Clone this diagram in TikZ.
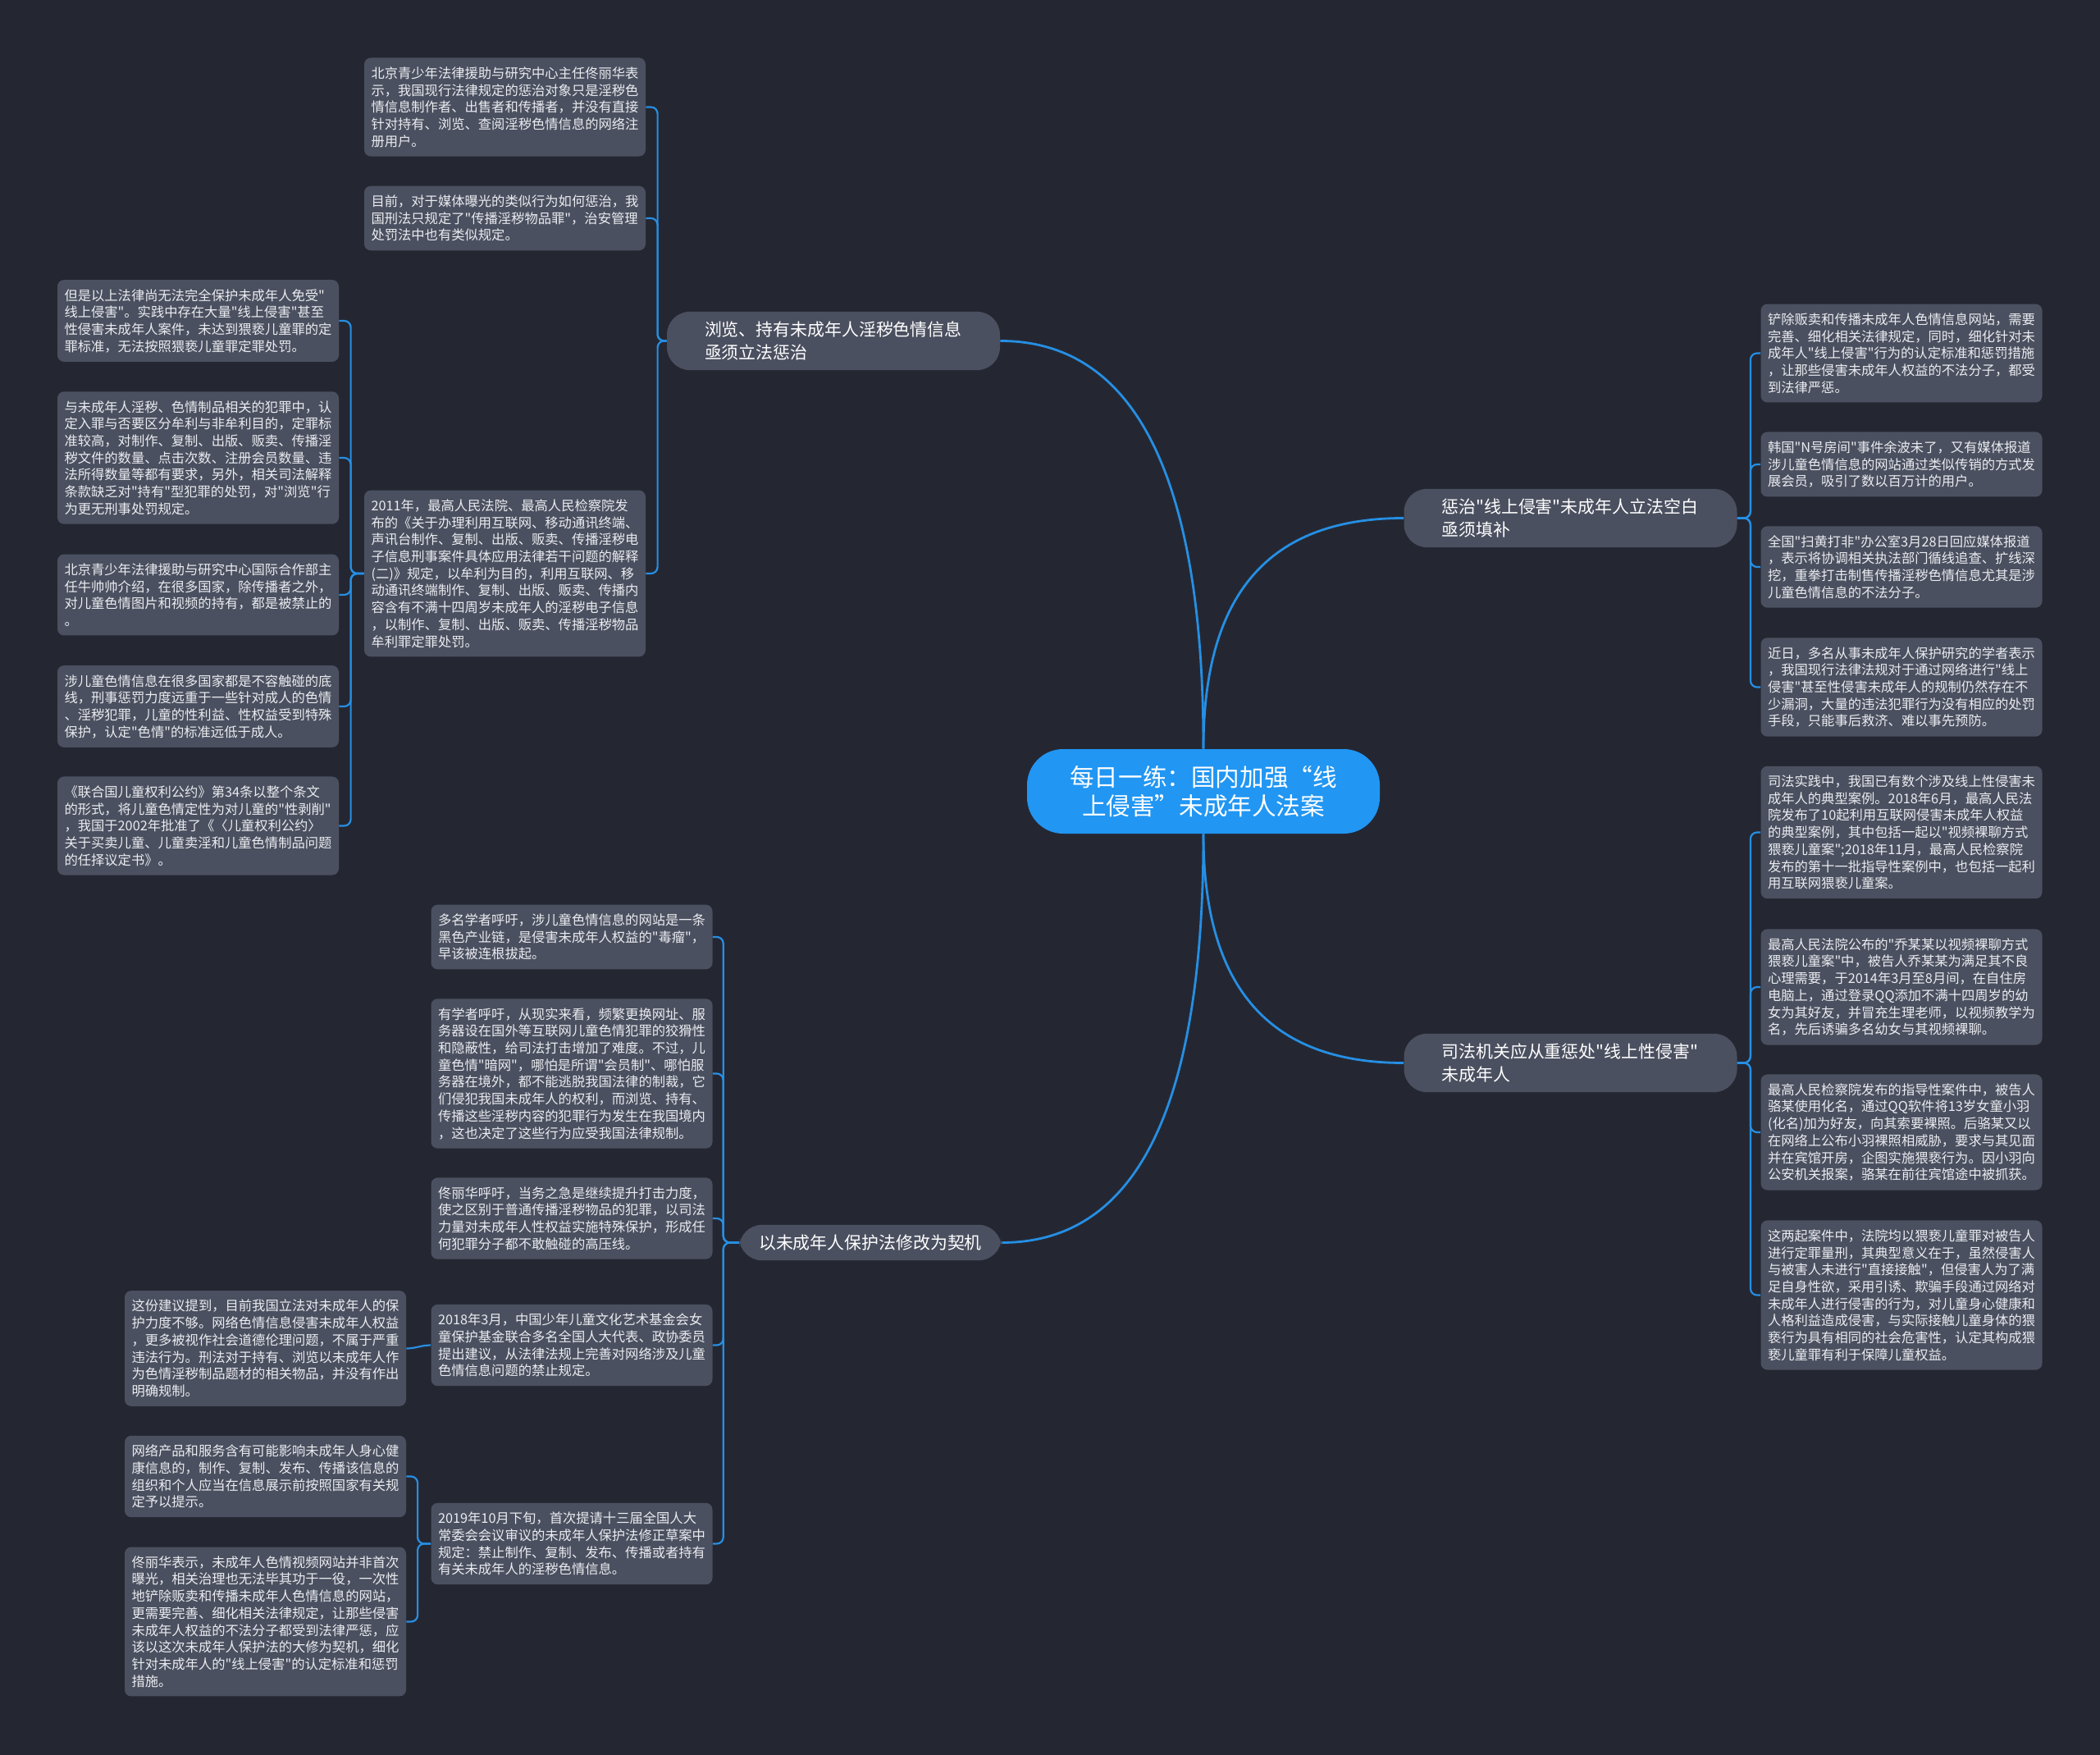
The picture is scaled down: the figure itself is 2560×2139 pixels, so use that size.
\documentclass[tikz,border=0pt]{standalone}
\usepackage{fontspec}
\setmainfont{Noto Sans CJK SC}[Ligatures=TeXOff]
\usepackage{tikz}
\definecolor{MMBack}{RGB}{36,39,50}
\definecolor{MMCard}{RGB}{75,80,96}
\definecolor{MMBlue}{RGB}{33,150,243}
\definecolor{MMLine}{RGB}{38,143,228}
\definecolor{MMText}{RGB}{234,236,240}
\newcommand{\hubfont}{\fontsize{14.8}{17.5}\selectfont}
\newcommand{\branchfont}{\fontsize{10.45}{13.9}\selectfont}
\newcommand{\leaffont}{\fontsize{8.15}{10.35}\selectfont}

\begin{document}
\begin{tikzpicture}[x=0.5pt, y=-0.5pt,
    hub/.style={fill=MMBlue, text=white, rounded corners=22pt, font=\hubfont,
                align=center, minimum width=215pt, minimum height=51.5pt},
    branch/.style={fill=MMCard, text=white, rounded corners=14pt, font=\branchfont,
                   align=left, inner xsep=23pt, inner ysep=6pt},
    leaf/.style={fill=MMCard, text=MMText, rounded corners=4pt, font=\leaffont,
                 align=left, text width=163pt, inner xsep=4.25pt, inner ysep=5.5pt},
    trunk/.style={draw=MMLine, line width=1.4pt},
    link/.style={draw=MMLine, line width=1.1pt, rounded corners=4pt}]
        % ---- canvas ----
        \useasboundingbox (0,0) rectangle (2560,2139);
        \fill[MMBack] (0,0) rectangle (2560,2139);

        % ---- centre and main branches ----
        \node[hub] (hub) at (1467,964.5) {每日一练：国内加强“线\\上侵害”未成年人法案};
        \node[branch, text width=157pt] (b1) at (1016,415.5)
              {浏览、持有未成年人淫秽色情信息\\亟须立法惩治};
        \node[branch, text width=157pt] (b2) at (1914.5,631.5)
              {惩治"线上侵害"未成年人立法空白\\亟须填补};
        \node[branch, text width=157pt] (b3) at (1914.5,1295.5)
              {司法机关应从重惩处"线上性侵害"\\未成年人};
        \node[branch, inner xsep=12pt] (b4) at (1061,1514.5)
              {以未成年人保护法修改为契机};

        \draw[trunk] (hub.north) .. controls +(0,-330) and +(165,0) .. (b1.east);
        \draw[trunk] (hub.north) .. controls +(0,-188) and +(-165,0) .. (b2.west);
        \draw[trunk] (hub.south) .. controls +(0,186) and +(-165,0) .. (b3.west);
        \draw[trunk] (hub.south) .. controls +(0,332) and +(165,0) .. (b4.east);

        % ---- upper left: browsing / possession ----
        \node[leaf] (l1) at (615.5,130.5) {北京青少年法律援助与研究中心主任佟丽华表\\示，我国现行法律规定的惩治对象只是淫秽色\\情信息制作者、出售者和传播者，并没有直接\\针对持有、浏览、查阅淫秽色情信息的网络注\\册用户。};
        \node[leaf] (l2) at (615.5,266) {目前，对于媒体曝光的类似行为如何惩治，我\\国刑法只规定了"传播淫秽物品罪"，治安管理\\处罚法中也有类似规定。};
        \node[leaf] (l3) at (615.5,699) {2011年，最高人民法院、最高人民检察院发\\布的《关于办理利用互联网、移动通讯终端、\\声讯台制作、复制、出版、贩卖、传播淫秽电\\子信息刑事案件具体应用法律若干问题的解释\\(二)》规定，以牟利为目的，利用互联网、移\\动通讯终端制作、复制、出版、贩卖、传播内\\容含有不满十四周岁未成年人的淫秽电子信息\\，以制作、复制、出版、贩卖、传播淫秽物品\\牟利罪定罪处罚。};
        \foreach \c in {l1,l2,l3} {
          \draw[link] (b1.west) -- ++(-11,0) |- (\c.east);
        }

        \node[leaf] (l4) at (241.5,391) {但是以上法律尚无法完全保护未成年人免受"\\线上侵害"。实践中存在大量"线上侵害"甚至\\性侵害未成年人案件，未达到猥亵儿童罪的定\\罪标准，无法按照猥亵儿童罪定罪处罚。};
        \node[leaf] (l5) at (241.5,558) {与未成年人淫秽、色情制品相关的犯罪中，认\\定入罪与否要区分牟利与非牟利目的，定罪标\\准较高，对制作、复制、出版、贩卖、传播淫\\秽文件的数量、点击次数、注册会员数量、违\\法所得数量等都有要求，另外，相关司法解释\\条款缺乏对"持有"型犯罪的处罚，对"浏览"行\\为更无刑事处罚规定。};
        \node[leaf] (l6) at (241.5,725) {北京青少年法律援助与研究中心国际合作部主\\任牛帅帅介绍，在很多国家，除传播者之外，\\对儿童色情图片和视频的持有，都是被禁止的\\。};
        \node[leaf] (l7) at (241.5,861) {涉儿童色情信息在很多国家都是不容触碰的底\\线，刑事惩罚力度远重于一些针对成人的色情\\、淫秽犯罪，儿童的性利益、性权益受到特殊\\保护，认定"色情"的标准远低于成人。};
        \node[leaf] (l8) at (241.5,1006.5) {《联合国儿童权利公约》第34条以整个条文\\的形式，将儿童色情定性为对儿童的"性剥削"\\，我国于2002年批准了《〈儿童权利公约〉\\关于买卖儿童、儿童卖淫和儿童色情制品问题\\的任择议定书》。};
        \foreach \c in {l4,l5,l6,l7,l8} {
          \draw[link] (l3.west) -- ++(-16,0) |- (\c.east);
        }

        % ---- upper right: legislative gap ----
        \node[leaf] (r1) at (2318,430.5) {铲除贩卖和传播未成年人色情信息网站，需要\\完善、细化相关法律规定，同时，细化针对未\\成年人"线上侵害"行为的认定标准和惩罚措施\\，让那些侵害未成年人权益的不法分子，都受\\到法律严惩。};
        \node[leaf] (r2) at (2318,566) {韩国"N号房间"事件余波未了，又有媒体报道\\涉儿童色情信息的网站通过类似传销的方式发\\展会员，吸引了数以百万计的用户。};
        \node[leaf] (r3) at (2318,691) {全国"扫黄打非"办公室3月28日回应媒体报道\\，表示将协调相关执法部门循线追查、扩线深\\挖，重拳打击制售传播淫秽色情信息尤其是涉\\儿童色情信息的不法分子。};
        \node[leaf] (r4) at (2318,837.5) {近日，多名从事未成年人保护研究的学者表示\\，我国现行法律法规对于通过网络进行"线上\\侵害"甚至性侵害未成年人的规制仍然存在不\\少漏洞，大量的违法犯罪行为没有相应的处罚\\手段，只能事后救济、难以事先预防。};
        \foreach \c in {r1,r2,r3,r4} {
          \draw[link] (b2.east) -- ++(16,0) |- (\c.west);
        }

        % ---- lower right: judicial cases ----
        \node[leaf] (r5) at (2318,1014.5) {司法实践中，我国已有数个涉及线上性侵害未\\成年人的典型案例。2018年6月，最高人民法\\院发布了10起利用互联网侵害未成年人权益\\的典型案例，其中包括一起以"视频裸聊方式\\猥亵儿童案";2018年11月，最高人民检察院\\发布的第十一批指导性案例中，也包括一起利\\用互联网猥亵儿童案。};
        \node[leaf] (r6) at (2318,1203) {最高人民法院公布的"乔某某以视频裸聊方式\\猥亵儿童案"中，被告人乔某某为满足其不良\\心理需要，于2014年3月至8月间，在自住房\\电脑上，通过登录QQ添加不满十四周岁的幼\\女为其好友，并冒充生理老师，以视频教学为\\名，先后诱骗多名幼女与其视频裸聊。};
        \node[leaf] (r7) at (2318,1380) {最高人民检察院发布的指导性案件中，被告人\\骆某使用化名，通过QQ软件将13岁女童小羽\\(化名)加为好友，向其索要裸照。后骆某又以\\在网络上公布小羽裸照相威胁，要求与其见面\\并在宾馆开房，企图实施猥亵行为。因小羽向\\公安机关报案，骆某在前往宾馆途中被抓获。};
        \node[leaf] (r8) at (2318,1578.5) {这两起案件中，法院均以猥亵儿童罪对被告人\\进行定罪量刑，其典型意义在于，虽然侵害人\\与被害人未进行"直接接触"，但侵害人为了满\\足自身性欲，采用引诱、欺骗手段通过网络对\\未成年人进行侵害的行为，对儿童身心健康和\\人格利益造成侵害，与实际接触儿童身体的猥\\亵行为具有相同的社会危害性，认定其构成猥\\亵儿童罪有利于保障儿童权益。};
        \foreach \c in {r5,r6,r7,r8} {
          \draw[link] (b3.east) -- ++(16,0) |- (\c.west);
        }

        % ---- lower left: law revision ----
        \node[leaf] (m1) at (697,1142) {多名学者呼吁，涉儿童色情信息的网站是一条\\黑色产业链，是侵害未成年人权益的"毒瘤"，\\早该被连根拔起。};
        \node[leaf] (m2) at (697,1308.5) {有学者呼吁，从现实来看，频繁更换网址、服\\务器设在国外等互联网儿童色情犯罪的狡猾性\\和隐蔽性，给司法打击增加了难度。不过，儿\\童色情"暗网"，哪怕是所谓"会员制"、哪怕服\\务器在境外，都不能逃脱我国法律的制裁，它\\们侵犯我国未成年人的权利，而浏览、持有、\\传播这些淫秽内容的犯罪行为发生在我国境内\\，这也决定了这些行为应受我国法律规制。};
        \node[leaf] (m3) at (697,1485) {佟丽华呼吁，当务之急是继续提升打击力度，\\使之区别于普通传播淫秽物品的犯罪，以司法\\力量对未成年人性权益实施特殊保护，形成任\\何犯罪分子都不敢触碰的高压线。};
        \node[leaf] (m4) at (697,1639.5) {2018年3月，中国少年儿童文化艺术基金会女\\童保护基金联合多名全国人大代表、政协委员\\提出建议，从法律法规上完善对网络涉及儿童\\色情信息问题的禁止规定。};
        \node[leaf] (m5) at (697,1881.5) {2019年10月下旬，首次提请十三届全国人大\\常委会会议审议的未成年人保护法修正草案中\\规定：禁止制作、复制、发布、传播或者持有\\有关未成年人的淫秽色情信息。};
        \foreach \c in {m1,m2,m3,m4,m5} {
          \draw[link] (b4.west) -- ++(-19,0) |- (\c.east);
        }

        \node[leaf] (k1) at (323.5,1643.5) {这份建议提到，目前我国立法对未成年人的保\\护力度不够。网络色情信息侵害未成年人权益\\，更多被视作社会道德伦理问题，不属于严重\\违法行为。刑法对于持有、浏览以未成年人作\\为色情淫秽制品题材的相关物品，并没有作出\\明确规制。};
        \node[leaf] (k2) at (323.5,1799.5) {网络产品和服务含有可能影响未成年人身心健\\康信息的，制作、复制、发布、传播该信息的\\组织和个人应当在信息展示前按照国家有关规\\定予以提示。};
        \node[leaf] (k3) at (323.5,1976.5) {佟丽华表示，未成年人色情视频网站并非首次\\曝光，相关治理也无法毕其功于一役，一次性\\地铲除贩卖和传播未成年人色情信息的网站，\\更需要完善、细化相关法律规定，让那些侵害\\未成年人权益的不法分子都受到法律严惩，应\\该以这次未成年人保护法的大修为契机，细化\\针对未成年人的"线上侵害"的认定标准和惩罚\\措施。};
        \draw[link] (m4.west) to[out=180, in=0] (k1.east);
        \foreach \c in {k2,k3} {
          \draw[link] (m5.west) -- ++(-16,0) |- (\c.east);
        }
\end{tikzpicture}
\end{document}
